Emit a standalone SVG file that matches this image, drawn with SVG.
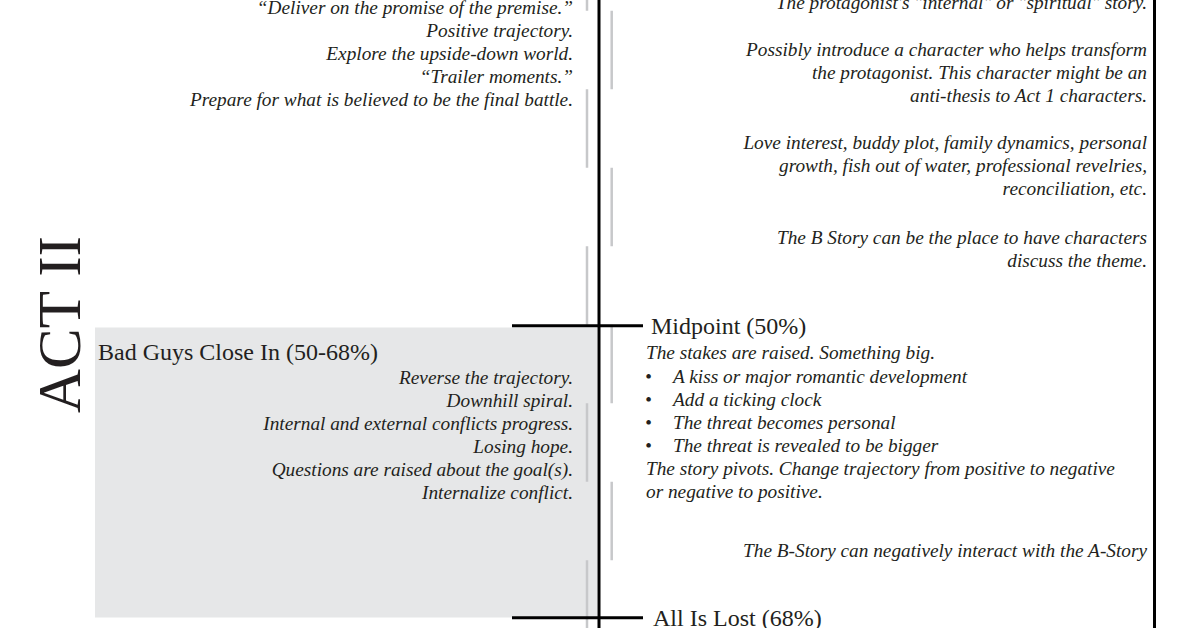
<svg xmlns="http://www.w3.org/2000/svg" width="1200" height="628" viewBox="0 0 1200 628">
<style>
.hd{font-family:"Liberation Serif","Times New Roman",serif;font-size:24px;fill:#231f20}
.it{font-family:"Liberation Serif","Times New Roman",serif;font-size:19.3px;font-style:italic;fill:#231f20}
.r{text-anchor:end}
.act{font-family:"Liberation Serif","Times New Roman",serif;font-size:61px;fill:#231f20}
.dash{stroke:#c7c8ca;stroke-width:2.5;stroke-dasharray:78.5 78.5;fill:none}
.main{stroke:#000;stroke-width:3;fill:none}
</style>
<rect width="1200" height="628" fill="#fff"/>
<g id="bad-guys-box">
<rect x="95" y="327.5" width="502" height="290" fill="#e6e7e8"/>
</g>
<g id="guides">
<line class="dash" x1="587" y1="-67.8" x2="587" y2="640"/>
<line class="dash" x1="611.7" y1="10.7" x2="611.7" y2="640"/>
</g>
<g id="connectors">
<line class="main" x1="599" y1="0" x2="599" y2="628"/>
<line class="main" x1="1154.5" y1="0" x2="1154.5" y2="628"/>
<line class="main" x1="512" y1="325.7" x2="643" y2="325.7"/>
<line class="main" x1="512" y1="617.7" x2="643" y2="617.7"/>
</g>
<g id="act-label">
<text class="act" transform="translate(80,413) rotate(-90)">ACT II</text>
</g>
<g id="fun-and-games">
<text class="it r" x="573" y="14">“Deliver on the promise of the premise.”</text>
<text class="it r" x="573" y="37">Positive trajectory.</text>
<text class="it r" x="573" y="60">Explore the upside-down world.</text>
<text class="it r" x="573" y="83">“Trailer moments.”</text>
<text class="it r" x="573" y="106">Prepare for what is believed to be the final battle.</text>
</g>
<g id="b-story">
<text class="it r" x="1147" y="9">The protagonist's "internal" or "spiritual" story.</text>
<text class="it r" x="1147" y="56">Possibly introduce a character who helps transform</text>
<text class="it r" x="1147" y="79">the protagonist. This character might be an</text>
<text class="it r" x="1147" y="102">anti-thesis to Act 1 characters.</text>
<text class="it r" x="1147" y="149">Love interest, buddy plot, family dynamics, personal</text>
<text class="it r" x="1147" y="172">growth, fish out of water, professional revelries,</text>
<text class="it r" x="1147" y="195">reconciliation, etc.</text>
<text class="it r" x="1147" y="244">The B Story can be the place to have characters</text>
<text class="it r" x="1147" y="267">discuss the theme.</text>
</g>
<g id="midpoint">
<text class="hd" x="651" y="334">Midpoint (50%)</text>
<text class="it" x="646" y="359">The stakes are raised. Something big.</text>
<text class="it" x="645" y="383">•</text><text class="it" x="673" y="383">A kiss or major romantic development</text>
<text class="it" x="645" y="406">•</text><text class="it" x="673" y="406">Add a ticking clock</text>
<text class="it" x="645" y="429">•</text><text class="it" x="673" y="429">The threat becomes personal</text>
<text class="it" x="645" y="452">•</text><text class="it" x="673" y="452">The threat is revealed to be bigger</text>
<text class="it" x="646" y="475">The story pivots. Change trajectory from positive to negative</text>
<text class="it" x="646" y="498">or negative to positive.</text>
<text class="it r" x="1147" y="557">The B-Story can negatively interact with the A-Story</text>
</g>
<g id="bad-guys">
<text class="hd" x="98" y="360">Bad Guys Close In (50-68%)</text>
<text class="it r" x="573" y="384">Reverse the trajectory.</text>
<text class="it r" x="573" y="407">Downhill spiral.</text>
<text class="it r" x="573" y="430">Internal and external conflicts progress.</text>
<text class="it r" x="573" y="453">Losing hope.</text>
<text class="it r" x="573" y="476">Questions are raised about the goal(s).</text>
<text class="it r" x="573" y="499">Internalize conflict.</text>
</g>
<g id="all-is-lost">
<text class="hd" x="653" y="626">All Is Lost (68%)</text>
</g>
</svg>
